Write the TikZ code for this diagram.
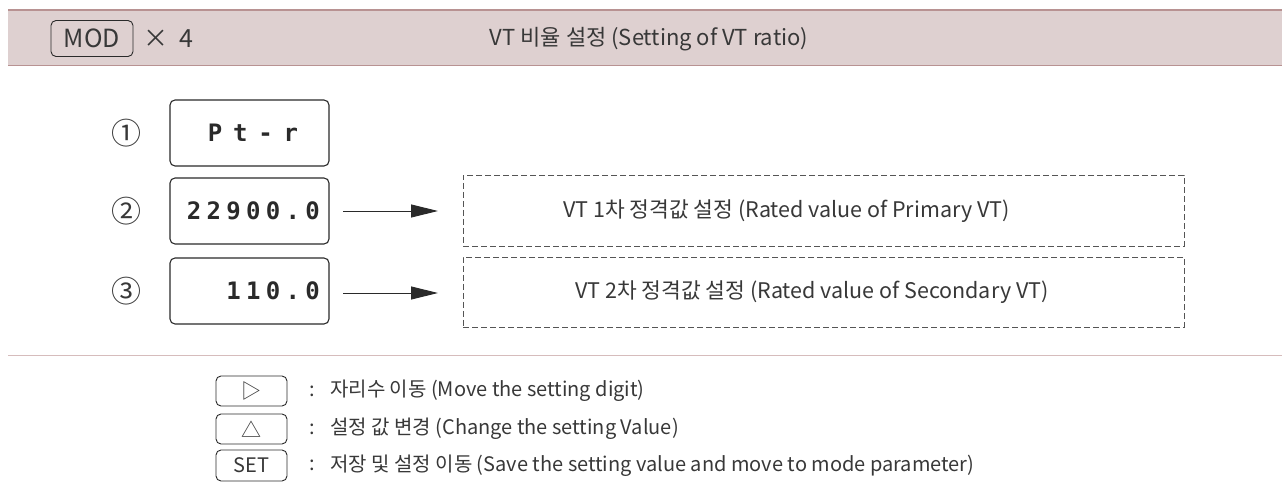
\documentclass[tikz,border=0pt]{standalone}
\usepackage{fontspec}
\setmainfont{Noto Sans CJK KR}
\newfontfamily\lcdfont[LetterSpace=22]{DejaVu Sans Mono Bold}
\newfontfamily\lcdwide[LetterSpace=45]{DejaVu Sans Mono Bold}
\usetikzlibrary{arrows.meta}
\definecolor{bandfill}{HTML}{DED0D0}
\definecolor{bandline}{HTML}{B89292}
\definecolor{sepline}{HTML}{D6BCBC}
\definecolor{ink}{HTML}{2A2A2A}
\definecolor{txt}{HTML}{383838}
\definecolor{dashgray}{HTML}{555555}
\tikzset{
  keybox/.style={draw=ink, line width=0.9pt, rounded corners=5pt},
  lcdbox/.style={draw=ink, line width=1.1pt, rounded corners=5pt},
  dbox/.style={draw=dashgray, line width=0.8pt, dash pattern=on 6pt off 3pt},
  ptr/.style={draw=ink, line width=0.9pt, -{Triangle[length=27pt,width=13pt]}},
  lbl/.style={text=txt, inner sep=0pt, font=\fontsize{20}{24}\selectfont},
  boxlbl/.style={text=txt, inner sep=0pt, font=\fontsize{21.5}{26}\selectfont},
  circnum/.style={text=txt, inner sep=0pt, font=\fontsize{30}{34}\selectfont},
  lcd/.style={text=ink, inner sep=0pt, font=\lcdfont\fontsize{24}{28}\selectfont}
}
\begin{document}
\begin{tikzpicture}[x=1pt, y=-1pt]
\useasboundingbox (0,0) rectangle (1282,494);
% header band
\fill[bandfill] (8,10) rectangle (1282,65.5);
\draw[bandline, line width=1.2pt] (8,10) -- (1282,10);
\draw[bandline, line width=1.2pt] (8,65.5) -- (1282,65.5);
\node[keybox, minimum width=82pt, minimum height=36pt, inner sep=0pt, font=\fontsize{25}{28}\selectfont, text=txt] (mod) at (92,38.5) {MOD};
\node[lbl, anchor=west, font=\fontsize{25}{28}\selectfont] (times) at (143,39) {× \ 4};
\node[lbl, font=\fontsize{22}{26}\selectfont] (title) at (649,39) {VT 비율 설정 (Setting of VT ratio)};
% displays
\node[lcdbox, minimum width=159pt, minimum height=66pt] (d1) at (249.5,133) {};
\node[lcdbox, minimum width=159pt, minimum height=66pt] (d2) at (249.5,211) {};
\node[lcdbox, minimum width=159pt, minimum height=66pt] (d3) at (249.5,291) {};
\node[lcd, font=\lcdwide\fontsize{24}{28}\selectfont] (t1) at (253,133) {Pt-r};
\node[lcd, anchor=east] (t2) at (320,211) {22900.0};
\node[lcd, anchor=east] (t3) at (320,291) {110.0};
\node[circnum] (c1) at (126,133) {①};
\node[circnum] (c2) at (126,211) {②};
\node[circnum] (c3) at (126,291) {③};
% dashed boxes
\node[dbox, minimum width=721pt, minimum height=71pt] (b1) at (823.5,210.5) {};
\node[dbox, minimum width=721pt, minimum height=70pt] (b2) at (823.5,292) {};
\node[boxlbl, anchor=west] (bt1) at (563,211) {VT 1차 정격값 설정 (Rated value of Primary VT)};
\node[boxlbl, anchor=west] (bt2) at (575,292) {VT 2차 정격값 설정 (Rated value of Secondary VT)};
% arrows
\coordinate (a1s) at (343,211);
\coordinate (a1e) at (438,211);
\coordinate (a2s) at (343,293);
\coordinate (a2e) at (438,293);
\draw[ptr] (a1s) -- (a1e);
\draw[ptr] (a2s) -- (a2e);
% separator
\draw[sepline, line width=1.4pt] (8,355.7) -- (1282,355.7);
% legend
\node[keybox, minimum width=71pt, minimum height=30pt, inner sep=0pt] (k1) at (251.5,391) {};
\node[keybox, minimum width=71pt, minimum height=30pt, inner sep=0pt] (k2) at (251.5,429) {};
\node[keybox, minimum width=71pt, minimum height=31pt, inner sep=0pt] (k3) at (251.5,465.5) {};
\node[lbl] at (k1) {▷};
\node[lbl] at (k2) {△};
\node[lbl] at (k3) {SET};
\node[lbl] (col1) at (312,391) {:};
\node[lbl] (col2) at (312,429) {:};
\node[lbl] (col3) at (312,465.5) {:};
\node[lbl, anchor=west] (l1) at (330,391) {자리수 이동 (Move the setting digit)};
\node[lbl, anchor=west] (l2) at (330,429) {설정 값 변경 (Change the setting Value)};
\node[lbl, anchor=west] (l3) at (330,465.5) {저장 및 설정 이동 (Save the setting value and move to mode parameter)};
\end{tikzpicture}
\end{document}
